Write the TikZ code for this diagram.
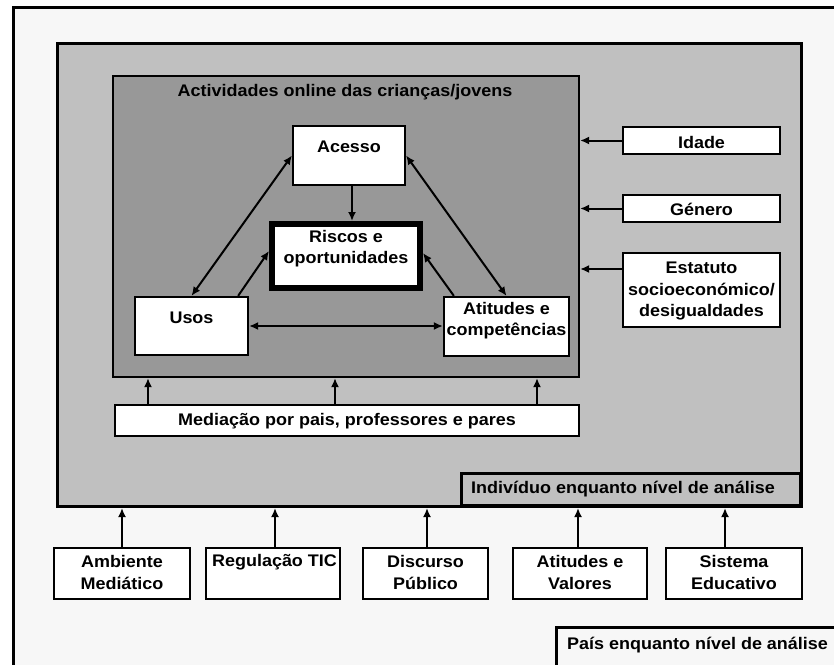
\documentclass[tikz,border=0pt]{standalone}
\usepackage{fontspec}
\setmainfont{Liberation Sans}[FakeStretch=1.07]
\usetikzlibrary{arrows.meta}
\definecolor{outerbg}{RGB}{247,247,247}
\definecolor{indbg}{RGB}{192,192,192}
\definecolor{actbg}{RGB}{152,152,152}
\begin{document}
\begin{tikzpicture}[x=1pt,y=-1pt,
  every node/.style={font=\fontsize{16.8}{21.5}\selectfont\bfseries},
  box/.style={draw=black, line width=2.2pt, fill=white, inner sep=0pt},
  txt/.style={align=center, inner sep=0pt},
  arr/.style={line width=2pt, -{Latex[length=9pt,width=8pt]}},
  darr/.style={line width=2pt, {Latex[length=9pt,width=8pt]}-{Latex[length=9pt,width=8pt]}}]
\useasboundingbox (0,0) rectangle (834,664);
\clip (0,0) rectangle (834,664);
\fill[white] (0,0) rectangle (834,664);
% outer frame (country level)
\node[draw, line width=3pt, fill=outerbg, inner sep=0pt, anchor=north west,
      minimum width=860pt, minimum height=700pt] (country) at (12,6) {};
% individual level
\node[draw, line width=3pt, fill=indbg, inner sep=0pt,
      minimum width=744pt, minimum height=463pt] (ind) at (429.5,275) {};
\node[draw, line width=3pt, fill=indbg, inner sep=0pt,
      minimum width=339pt, minimum height=32pt] (indlab) at (631,489.5) {};
\node[txt, anchor=west] (indlabT) at (471,489) {Indivíduo enquanto nível de análise};
% activities
\node[draw, line width=2.2pt, fill=actbg, inner sep=0pt,
      minimum width=466pt, minimum height=301pt] (act) at (346,226.5) {};
\node[txt] (actT) at (345,92) {Actividades online das crianças/jovens};
% inner boxes
\node[box, minimum width=112pt, minimum height=59pt] (acesso) at (349,155.5) {};
\node[txt] (acessoT) at (349,147) {Acesso};
\node[box, line width=5pt, minimum width=149pt, minimum height=65pt] (riscos) at (346,256) {};
\draw[line width=0.9pt] ([shift={(5.5,-5.5)}]riscos.south west) rectangle ([shift={(-5.5,5.5)}]riscos.north east);
\node[txt] (riscosT) at (346,248.5) {Riscos e\\oportunidades};
\node[box, minimum width=113pt, minimum height=58pt] (usos) at (191.5,326) {};
\node[txt] (usosT) at (191.5,318) {Usos};
\node[box, minimum width=125pt, minimum height=59pt] (atit) at (506.5,326.5) {};
\node[txt] (atitT) at (506.5,320.5) {Atitudes e\\competências};
% inner arrows
\draw[darr] (acesso.west) -- (usos.north);
\draw[darr] (acesso.east) -- (atit.north);
\draw[arr] ([xshift=3pt]acesso.south) -- ([xshift=3pt]acesso.south |- riscos.north);
\draw[arr] ([xshift=-11pt]usos.north east) -- ([yshift=5pt]riscos.west);
\draw[arr] ([xshift=11pt]atit.north west) -- ([yshift=3pt]riscos.east);
\draw[darr] (usos.east) -- (usos.east -| atit.west);
% mediation
\node[box, minimum width=464pt, minimum height=31pt] (med) at (347,420.5) {};
\node[txt] (medT) at (347,421) {Mediação por pais, professores e pares};
\coordinate (m1) at (148,0);
\coordinate (m2) at (335,0);
\coordinate (m3) at (537,0);
\draw[arr] (m1 |- med.north) -- (m1 |- act.south);
\draw[arr] (m2 |- med.north) -- (m2 |- act.south);
\draw[arr] (m3 |- med.north) -- (m3 |- act.south);
% right side factors
\node[box, minimum width=157pt, minimum height=27pt] (idade) at (701.5,140.5) {};
\node[txt] (idadeT) at (701.5,142) {Idade};
\node[box, minimum width=157pt, minimum height=27pt] (genero) at (701.5,208.5) {};
\node[txt] (generoT) at (701.5,209) {Género};
\node[box, minimum width=157pt, minimum height=74pt] (estat) at (701.5,290) {};
\node[txt] (estatT) at (701.5,291) {Estatuto\\socioeconómico/\\desigualdades};
\draw[arr] (idade.west) -- (idade.west -| act.east);
\draw[arr] (genero.west) -- (genero.west -| act.east);
\draw[arr] ([yshift=21pt]estat.west) -- ([yshift=21pt]estat.west -| act.east);
% country level factors
\node[box, minimum width=136pt, minimum height=51pt] (amb) at (122,573.5) {};
\node[txt] (ambT) at (122,572.5) {Ambiente\\Mediático};
\node[box, minimum width=134pt, minimum height=51pt] (reg) at (273,573.5) {};
\node[txt] (regT) at (274.5,562) {Regulação TIC};
\node[box, minimum width=125pt, minimum height=51pt] (disc) at (425.5,573.5) {};
\node[txt] (discT) at (425.5,572.5) {Discurso\\Público};
\node[box, minimum width=134pt, minimum height=51pt] (atv) at (580,573.5) {};
\node[txt] (atvT) at (580,572.5) {Atitudes e\\Valores};
\node[box, minimum width=136pt, minimum height=51pt] (sis) at (734,573.5) {};
\node[txt] (sisT) at (734,572.5) {Sistema\\Educativo};
\draw[arr] (amb.north) -- (amb.north |- ind.south);
\draw[arr] ([xshift=2pt]reg.north) -- ([xshift=2pt]reg.north |- ind.south);
\draw[arr] ([xshift=1.5pt]disc.north) -- ([xshift=1.5pt]disc.north |- ind.south);
\draw[arr] ([xshift=-2pt]atv.north) -- ([xshift=-2pt]atv.north |- ind.south);
\draw[arr] ([xshift=-9pt]sis.north) -- ([xshift=-9pt]sis.north |- ind.south);
% country label
\node[draw, line width=2.5pt, fill=outerbg, inner sep=0pt, anchor=north west,
      minimum width=320pt, minimum height=70pt] (pais) at (555,626) {};
\node[txt, anchor=west] (paisT) at (567,645) {País enquanto nível de análise};
\end{tikzpicture}
\end{document}
